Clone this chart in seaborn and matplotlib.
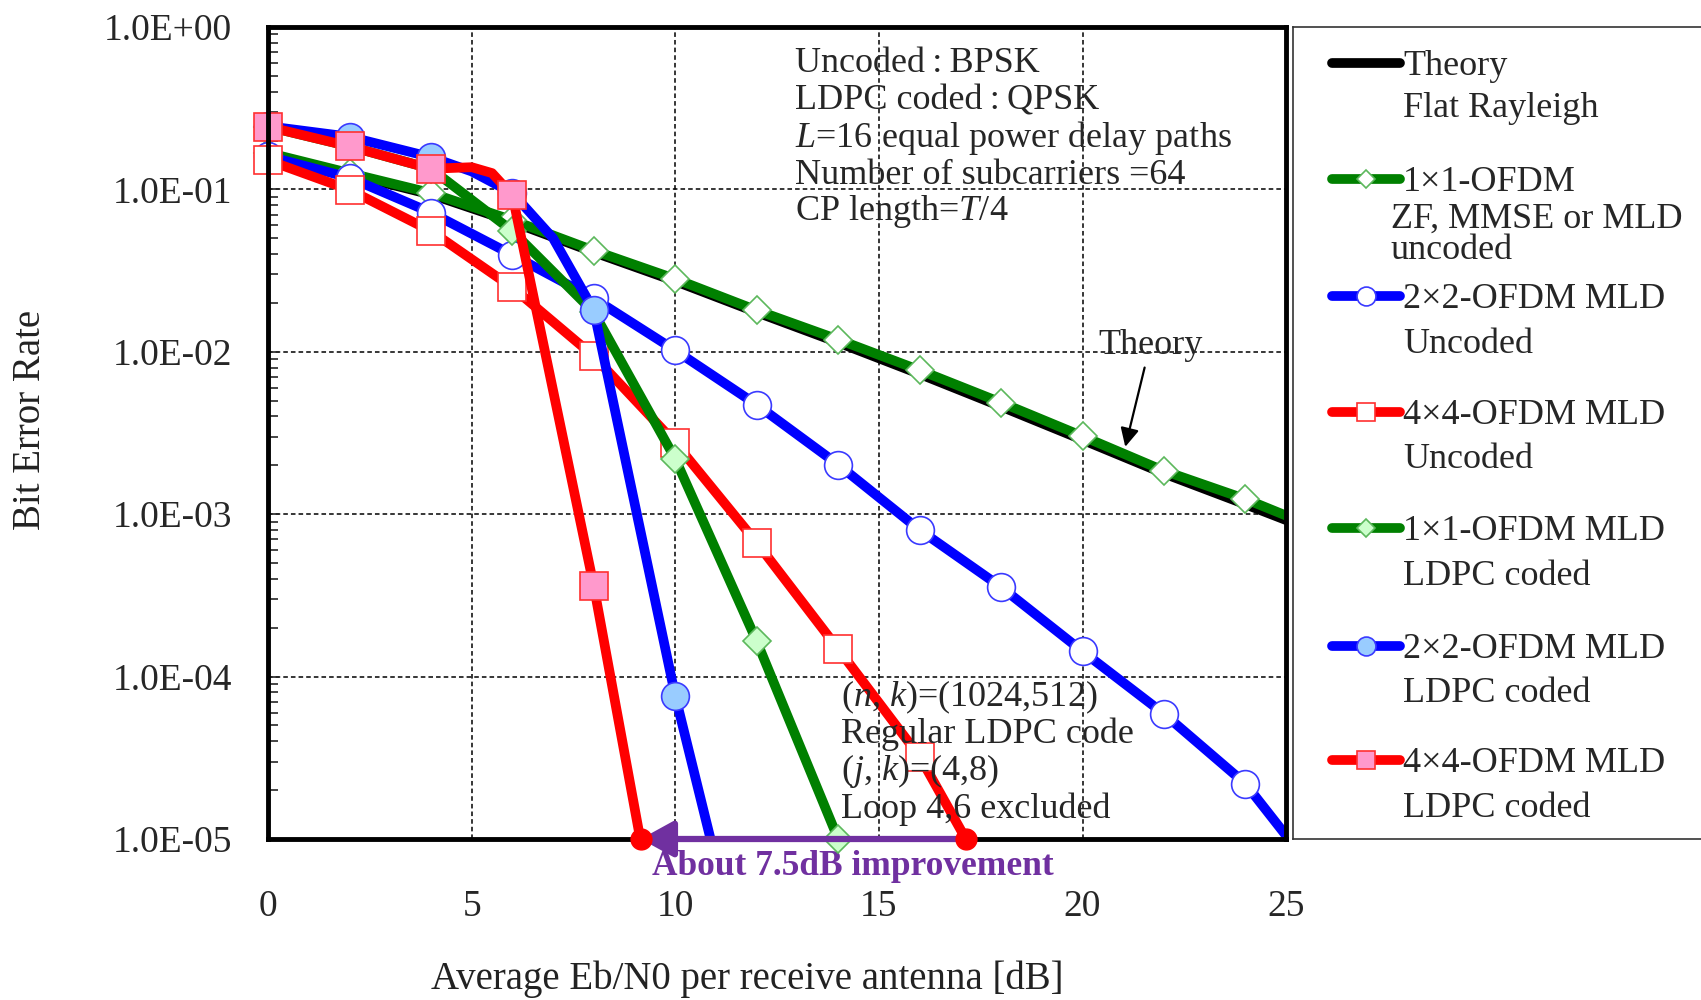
import numpy as np
import pandas as pd
import seaborn as sns
import matplotlib.pyplot as plt
from matplotlib.ticker import FixedLocator, FuncFormatter, LogLocator, NullFormatter

# ==========================================
# Data
# ==========================================
theory_x = [0, 2, 4, 6, 8, 10, 12, 14, 16, 18, 20, 22, 24, 25]
theory_ber = [0.165, 0.124, 0.093, 0.063, 0.041, 0.0272, 0.0175, 0.0114,
              0.0073, 0.0046, 0.00287, 0.00178, 0.00115, 0.00092]

ofdm1_unc_x = [0, 2, 4, 6, 8, 10, 12, 14, 16, 18, 20, 22, 24, 25]
ofdm1_unc_ber = [0.168, 0.126, 0.095, 0.0646, 0.042, 0.0281, 0.018, 0.0119,
                 0.0077, 0.00487, 0.00302, 0.00185, 0.00124, 0.00098]

ofdm2_unc_x = [0, 2, 4, 6, 8, 10, 12, 14, 16, 18, 20, 22, 24, 25]
ofdm2_unc_ber = [0.16, 0.118, 0.072, 0.0395, 0.0213, 0.0102, 0.00472, 0.00202,
                 0.0008, 0.000356, 0.000143, 5.9e-5, 2.19e-5, 1.05e-5]

ofdm4_unc_x = [0, 2, 4, 6, 8, 10, 12, 14, 16, 18]
ofdm4_unc_ber = [0.151, 0.0994, 0.0554, 0.0249, 0.0094, 0.00275, 0.000668,
                 0.000148, 3.22e-5, 4.1e-6]

ofdm1_cod_x = [0, 2, 4, 6, 8, 10, 12, 14]
ofdm1_cod_ber = [0.243, 0.184, 0.134, 0.0554, 0.0175, 0.00219, 0.000165, 1.0e-5]

ofdm2_cod_x = [0, 2, 4, 5, 6, 7, 8, 10, 12]
ofdm2_cod_ber = [0.245, 0.211, 0.158, 0.129, 0.095, 0.05, 0.018, 7.6e-5, 7e-7]

ofdm4_cod_x = [0, 2, 4, 5, 5.5, 6, 8, 10]
ofdm4_cod_ber = [0.243, 0.184, 0.134, 0.137, 0.126, 0.092, 3.6e-4, 6.7e-7]

improve_x = [17.15, 9.15]
improve_ber = [1e-5, 1e-5]

legend_labels = [
    ["Theory", "Flat Rayleigh"],
    ["1\u00d71-OFDM", "ZF, MMSE or MLD", "uncoded"],
    ["2\u00d72-OFDM MLD", "Uncoded"],
    ["4\u00d74-OFDM MLD", "Uncoded"],
    ["1\u00d71-OFDM MLD", "LDPC coded"],
    ["2\u00d72-OFDM MLD", "LDPC coded"],
    ["4\u00d74-OFDM MLD", "LDPC coded"],
]

x_ticks = [0, 5, 10, 15, 20, 25]
y_ticks = [1e0, 1e-1, 1e-2, 1e-3, 1e-4, 1e-5]

# ==========================================
# Style
# ==========================================
sns.set_style("white")
plt.rcParams["font.family"] = ["Liberation Serif", "DejaVu Serif"]
plt.rcParams["mathtext.fontset"] = "custom"
plt.rcParams["mathtext.rm"] = "Liberation Serif"
plt.rcParams["mathtext.it"] = "Liberation Serif:italic"

GREEN, BLUE, RED = "#008000", "#0000ff", "#ff0000"
series = [
    dict(x=theory_x, y=theory_ber, color="black", marker=None, mfc="none", mec="none", ms=0),
    dict(x=ofdm1_unc_x, y=ofdm1_unc_ber, color=GREEN, marker="D", mfc="white", mec="#5cb85c", ms=14),
    dict(x=ofdm2_unc_x, y=ofdm2_unc_ber, color=BLUE, marker="o", mfc="white", mec="#3a3aff", ms=20),
    dict(x=ofdm4_unc_x, y=ofdm4_unc_ber, color=RED, marker="s", mfc="white", mec="#ff3030", ms=20),
    dict(x=ofdm1_cod_x, y=ofdm1_cod_ber, color=GREEN, marker="D", mfc="#ccffcc", mec="#5cb85c", ms=14),
    dict(x=ofdm2_cod_x, y=ofdm2_cod_ber, color=BLUE, marker="o", mfc="#99ccff", mec="#3a3aff", ms=20),
    dict(x=ofdm4_cod_x, y=ofdm4_cod_ber, color=RED, marker="s", mfc="#ff99cc", mec="#ff3030", ms=20),
]

fig = plt.figure(figsize=(17.01, 10), dpi=100)
ax = fig.add_axes([0.1576, 0.161, 0.5985, 0.812])
ax.set_yscale("log")

for i, s in enumerate(series):
    xs = np.array(s["x"], dtype=float)
    ys = np.array(s["y"], dtype=float)
    # line, clipped to the plot area
    sns.lineplot(x=xs, y=ys, ax=ax, errorbar=None, sort=False,
                 color=s["color"], lw=7, zorder=3 + 2 * i)
    if s["marker"]:
        # markers on every 2 dB, drawn unclipped like the original
        keep = (xs % 2 == 0) & (ys >= 1e-5)
        sns.lineplot(x=xs[keep], y=ys[keep], ax=ax, errorbar=None, sort=False,
                     linestyle="none", marker=s["marker"], markersize=s["ms"],
                     markerfacecolor=s["mfc"], markeredgecolor=s["mec"],
                     markeredgewidth=1.2, color=s["color"], zorder=4 + 2 * i)
        ax.lines[-1].set_clip_on(False)

ax.set_xlim(0, 25)
ax.set_ylim(1e-5, 1)

# ticks
ax.xaxis.set_major_locator(FixedLocator(x_ticks))
ax.yaxis.set_major_locator(FixedLocator(y_ticks))
ax.yaxis.set_minor_locator(LogLocator(base=10, subs=np.arange(2, 10)))
ax.yaxis.set_minor_formatter(NullFormatter())
ax.yaxis.set_major_formatter(FuncFormatter(lambda v, p: f"{v:.1E}"))
ax.tick_params(axis="x", length=0, pad=36, labelsize=27)
ax.tick_params(axis="y", which="major", direction="in", length=8, width=1.2,
               pad=26, labelsize=27, left=True, right=False)
ax.tick_params(axis="y", which="minor", direction="in", length=7, width=1.2,
               left=True, right=False)

ax.grid(True, which="major", color="black", linestyle=(0, (3, 2)), lw=1.1)
for sp in ax.spines.values():
    sp.set_color("black")
    sp.set_linewidth(3.5)
    sp.set_zorder(20)
ax.set_xlabel("")
ax.set_ylabel("")

# improvement arrow
ax.annotate("", xy=(improve_x[1], improve_ber[1]), xytext=(improve_x[0], improve_ber[0]),
            arrowprops=dict(arrowstyle="-|>,head_length=0.4,head_width=0.22",
                            color="#7030a0", lw=4.5, mutation_scale=50,
                            shrinkA=0, shrinkB=0),
            annotation_clip=False, zorder=25)
ax.plot(improve_x, improve_ber, "o", color=RED, ms=15, clip_on=False, zorder=26)
ax.text(0.574, -0.0335, "About 7.5dB improvement", transform=ax.transAxes,
        ha="center", va="center", fontsize=25.5, fontweight="bold",
        color="#7030a0", clip_on=False)

# Theory pointer
ax.annotate("Theory", xy=(21.05, 0.0026), xytext=(21.66, 0.011),
            ha="center", va="center", fontsize=26,
            arrowprops=dict(arrowstyle="-|>", color="black", lw=1.6,
                            mutation_scale=28, shrinkA=2, shrinkB=0),
            zorder=30)

# text blocks
top_lines = ["Uncoded\u2009:\u2009BPSK", "LDPC coded\u2009:\u2009QPSK",
             "$L$=16 equal power delay paths", "Number of subcarriers =64",
             "CP length=$T$/4"]
top_y = [0.9446, 0.8978, 0.852, 0.8067, 0.762]
for t, yy in zip(top_lines, top_y):
    ax.text(0.518, yy, t, transform=ax.transAxes, fontsize=26, va="baseline",
            ha="left", zorder=30)

low_lines = ["($n$, $k$)=(1024,512)", "Regular LDPC code", "($j$, $k$)=(4,8)",
             "Loop 4,6 excluded"]
low_y = [0.164, 0.118, 0.0727, 0.0259]
for t, yy in zip(low_lines, low_y):
    ax.text(0.563, yy, t, transform=ax.transAxes, fontsize=26, va="baseline",
            ha="left", zorder=30)

# axis labels
fig.text(747 / 1701, 0.021, "Average Eb/N0 per receive antenna [dB]",
         ha="center", va="center", fontsize=28, color="#222222")
fig.text(30 / 1701, 0.58, "Bit Error Rate", rotation=90,
         ha="center", va="center", fontsize=28, color="#222222")

# ==========================================
# Legend box
# ==========================================
lax = fig.add_axes([0.760, 0.161, 0.26, 0.812])
lax.set_xlim(0, 1)
lax.set_ylim(0, 1)
lax.set_xticks([])
lax.set_yticks([])
for sp in lax.spines.values():
    sp.set_linewidth(1.2)
    sp.set_color("#333333")

handle_y = [63, 179, 296, 412, 528, 646, 760]
line_y = [[63, 105], [179, 216, 247], [296, 341], [412, 456],
          [528, 573], [646, 690], [760, 805]]
for s, hy, lines, ys in zip(series, handle_y, legend_labels, line_y):
    yf = (839 - hy) / 812
    lax.plot([0.088, 0.242], [yf, yf], color=s["color"], lw=7,
             solid_capstyle="round")
    if s["marker"]:
        lax.plot([0.165], [yf], marker=s["marker"], ms=s["ms"] * 0.68,
                 mfc=s["mfc"], mec=s["mec"], mew=1.2, color=s["color"])
    for j, (t, ly) in enumerate(zip(lines, ys)):
        xt = 0.222 if (j > 0 and len(lines) == 3) else 0.249
        lax.text(xt, (839 - ly - 12) / 812, t, fontsize=26, va="baseline",
                 ha="left")

plt.savefig("out.png", dpi=100)
